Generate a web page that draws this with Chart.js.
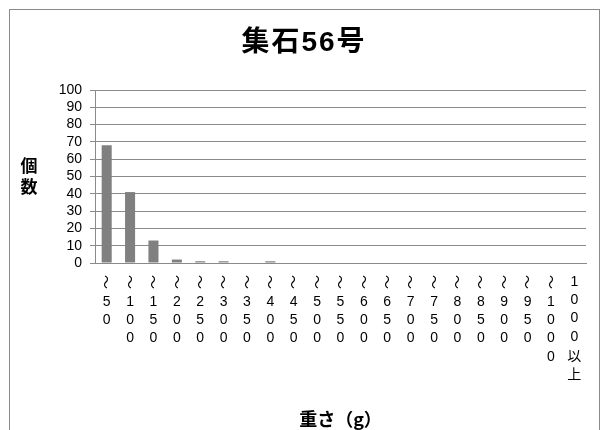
<!DOCTYPE html>
<html lang="ja">
<head>
<meta charset="UTF-8">
<title>集石56号</title>
<script src="https://cdn.jsdelivr.net/npm/chart.js"></script>
<style>
  body { margin: 0; background: #fff; }
  .wrap { position: relative; width: 606px; height: 430px; overflow: hidden; }
  .frame { position: absolute; left: 9px; top: 9px; width: 591px; height: 440px; border: 1px solid #8a8a8a; box-sizing: border-box; }
  canvas { position: absolute; left: 0; top: 0; }
</style>
</head>
<body>
<div class="wrap">
  <div class="frame"></div>
  <canvas id="chart" width="606" height="430"></canvas>
</div>
<script>
  // weight classes (g) and stone counts
  const categories = ['～50','～100','～150','～200','～250','～300','～350','～400','～450','～500',
                      '～550','～600','～650','～700','～750','～800','～850','～900','～950','～1000','1000以上'];
  const counts = [68, 41, 13, 2, 1, 1, 0, 1, 0, 0, 0, 0, 0, 0, 0, 0, 0, 0, 0, 0, 0];
  const yTicks = [0, 10, 20, 30, 40, 50, 60, 70, 80, 90, 100];

  const chartTitle = '集石56号';
  const yTitle = '個数';
  const xTitle = '重さ（g）';

  const FONT = "'Liberation Sans', Arial, 'Noto Sans CJK JP', sans-serif";
  const JP_BOLD = "'Noto Sans CJK JP', sans-serif";

  // title, vertical y axis title and stacked (tategaki) x tick labels
  const extraText = {
    id: 'extraText',
    afterDraw(chart) {
      const ctx = chart.ctx;
      const area = chart.chartArea;
      const xScale = chart.scales.x;
      ctx.save();
      ctx.fillStyle = '#000';
      ctx.textAlign = 'center';
      ctx.textBaseline = 'middle';

      // chart title, centred on the whole canvas
      ctx.font = 'bold 28px ' + FONT;
      ctx.letterSpacing = '2px';
      ctx.fillText(chartTitle, chart.width / 2 + 1, 43);
      ctx.letterSpacing = '0px';

      ctx.font = 'bold 17px ' + JP_BOLD;
      const chars = Array.from(yTitle);
      const mid = (area.top + area.bottom) / 2;
      chars.forEach((c, i) => {
        ctx.fillText(c, 29, mid + (i - (chars.length - 1) / 2) * 21);
      });

      categories.forEach((label, i) => {
        const x = xScale.getPixelForTick(i);
        let y = area.bottom + 19;
        Array.from(label).forEach((c, j) => {
          if (c === '～') {
            ctx.save();
            ctx.translate(x, y);
            ctx.rotate(Math.PI / 2);
            ctx.font = '14px ' + JP_BOLD;
            ctx.fillText(c, 0, 0);
            ctx.restore();
            y += 20;
          } else {
            ctx.font = (/[0-9]/.test(c) ? '14px ' + FONT : '14px ' + JP_BOLD);
            ctx.fillText(c, x, y);
            y += 18.3;
          }
        });
      });
      ctx.restore();
    }
  };

  new Chart(document.getElementById('chart'), {
    type: 'bar',
    data: {
      labels: categories,
      datasets: [{
        data: counts,
        backgroundColor: '#808080',
        categoryPercentage: 1,
        barPercentage: 0.43
      }]
    },
    options: {
      responsive: false,
      animation: false,
      layout: { padding: { top: 90, right: 20, bottom: 0, left: 0 } },
      plugins: {
        legend: { display: false },
        tooltip: { enabled: false },
        title: { display: false }
      },
      scales: {
        x: {
          grid: { display: false },
          border: { display: true, color: '#8a8a8a' },
          ticks: { display: false },
          title: {
            display: true,
            text: xTitle,
            color: '#000',
            font: { family: JP_BOLD, size: 18, weight: 'bold' },
            padding: { top: 0, bottom: 0 }
          },
          afterFit(scale) { scale.height = 167; }
        },
        y: {
          min: 0,
          max: 100,
          afterBuildTicks(scale) { scale.ticks = yTicks.map(v => ({ value: v })); },
          grid: { color: '#8a8a8a', tickLength: 5 },
          border: { display: true, color: '#8a8a8a' },
          ticks: {
            color: '#000',
            autoSkip: false,
            padding: 8,
            font: { family: FONT, size: 14 }
          },
          afterFit(scale) { scale.width = 95; }
        }
      }
    },
    plugins: [extraText]
  });
</script>
</body>
</html>
